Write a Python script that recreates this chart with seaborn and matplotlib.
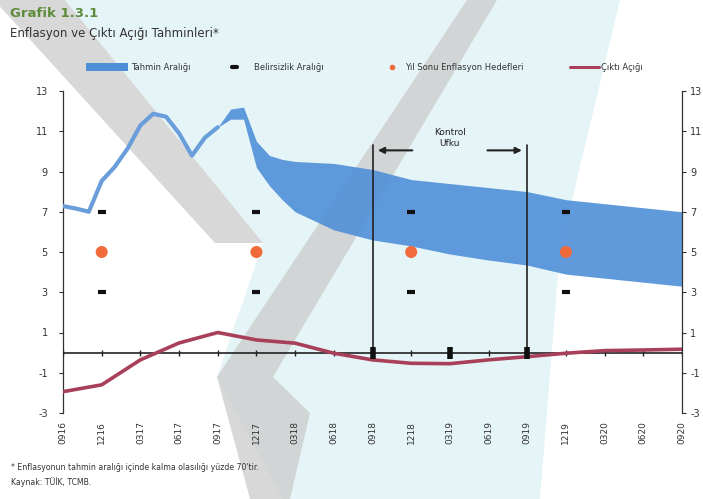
import numpy as np
import pandas as pd
import seaborn as sns
import matplotlib.pyplot as plt
from matplotlib.patches import Polygon, Rectangle
from matplotlib.lines import Line2D

# quarter labels (every 3 months, month index 0 = 09/2016)
quarter_labels = ["0916", "1216", "0317", "0617", "0917", "1217", "0318", "0618", "0918",
                  "1218", "0319", "0619", "0919", "1219", "0320", "0620", "0920"]
quarter_idx = list(range(0, 49, 3))

# realized inflation (monthly, 0916-0917)
hist_months = [0, 1, 2, 3, 4, 5, 6, 7, 8, 9, 10, 11, 12]
hist_infl = [7.28, 7.16, 7.00, 8.53, 9.22, 10.13, 11.29, 11.87, 11.72, 10.90, 9.79, 10.68, 11.20]

# forecast range
band_months = [12, 13, 14, 15, 16, 17, 18, 21, 24, 27, 30, 33, 36, 39, 42, 45, 48]
band_upper = [11.2, 12.1, 12.2, 10.5, 9.8, 9.6, 9.5, 9.4, 9.1, 8.6, 8.4, 8.2, 8.0, 7.6, 7.4, 7.2, 7.0]
band_lower = [11.2, 11.6, 11.6, 9.2, 8.3, 7.6, 7.0, 6.1, 5.6, 5.3, 4.9, 4.6, 4.35, 3.9, 3.7, 3.5, 3.3]

# output gap (quarterly)
gap = [-1.94, -1.6, -0.36, 0.48, 1.0, 0.63, 0.47, -0.03, -0.36, -0.53, -0.55, -0.36, -0.2,
       -0.03, 0.1, 0.13, 0.17]

# year-end targets and uncertainty range
target_months = [3, 15, 27, 39]
target_vals = [5, 5, 5, 5]
unc_upper = [7, 7, 7, 7]
unc_lower = [3, 3, 3, 3]

# control horizon
horizon = [24, 36]
zero_marks = [24, 30, 36]

legend_labels = ["Tahmin Aralığı", "Belirsizlik Aralığı", "Yıl Sonu Enflasyon Hedefleri", "Çıktı Açığı"]

BAND = "#4f8fd8"
LINE = "#6a9edb"
GAP = "#a8405a"
ORANGE = "#f06a3c"
TXT = "#333333"

sns.set_theme(style="white")
plt.rcParams["font.family"] = ["DejaVu Sans"]
plt.rcParams["axes.unicode_minus"] = False

fig = plt.figure(figsize=(7.03, 4.99), dpi=100, facecolor="white")
ax = fig.add_axes([63 / 703, 1 - 413 / 499, (682 - 63) / 703, (413 - 91) / 499])
ax.set_facecolor("none")


def px(pts):
    return [(x / 703, 1 - y / 499) for x, y in pts]


# background watermark shapes
cyan = Polygon(px([(65, 0), (620, 0), (560, 250), (540, 499), (283, 499), (217, 377), (263, 243)]),
               closed=True, transform=fig.transFigure, facecolor="#e5f4f7", edgecolor="none", zorder=-3)
grey1 = Polygon(px([(-6, 0), (65, 0), (263, 243), (215, 243)]),
                closed=True, transform=fig.transFigure, facecolor="#cbcbcb", edgecolor="none",
                alpha=0.75, zorder=-2)
grey2 = Polygon(px([(467, 0), (497, 0), (273, 377), (310, 413), (290, 499), (250, 499), (217, 377)]),
                closed=True, transform=fig.transFigure, facecolor="#cbcbcb", edgecolor="none",
                alpha=0.75, zorder=-2)
for p in (cyan, grey1, grey2):
    fig.add_artist(p)

# forecast band
ax.fill_between(band_months, band_lower, band_upper, color=BAND, alpha=0.9, lw=0, zorder=2)

hist_df = pd.DataFrame({"m": hist_months, "v": hist_infl})
sns.lineplot(data=hist_df, x="m", y="v", ax=ax, color=LINE, lw=3, zorder=3)

gap_df = pd.DataFrame({"m": quarter_idx, "v": gap})
sns.lineplot(data=gap_df, x="m", y="v", ax=ax, color=GAP, lw=2.6, zorder=4)

ax.axhline(0, color="#222222", lw=1.2, zorder=3)
ax.plot(quarter_idx, [0] * len(quarter_idx), ls="none", marker="|", ms=4, mew=1, color="#222222", zorder=3)

# uncertainty dashes and targets
for vals in (unc_upper, unc_lower):
    ax.plot(target_months, vals, ls="none", marker="_", ms=6, mew=3, color="#111111", zorder=5)
sns.scatterplot(x=target_months, y=target_vals, ax=ax, color=ORANGE, s=75, edgecolor="none",
                zorder=5, legend=False)

# control horizon
for h in horizon:
    ax.plot([h, h], [0, 10.3], color="#222222", lw=1.2, zorder=5)
ax.plot(zero_marks, [0] * len(zero_marks), ls="none", marker="|", ms=9, mew=4, color="#111111", zorder=6)
ax.annotate("", xy=(24.2, 10.05), xytext=(27.3, 10.05),
            arrowprops=dict(arrowstyle="-|>", color="#222222", lw=1.5, mutation_scale=9), zorder=6)
ax.annotate("", xy=(35.8, 10.05), xytext=(32.7, 10.05),
            arrowprops=dict(arrowstyle="-|>", color="#222222", lw=1.5, mutation_scale=9), zorder=6)
ax.text(30, 10.65, "Kontrol\nUfku", ha="center", va="center", fontsize=6.5, color="#222222",
        linespacing=1.3, zorder=6)

ax.set_xlim(0, 48)
ax.set_ylim(-3, 13)
ax.set_yticks(range(-3, 14, 2))
ax.set_xticks(quarter_idx)
ax.set_xticklabels(quarter_labels, rotation=90, fontsize=6.5, color=TXT)
ax.tick_params(axis="x", length=0, pad=6)
ax.tick_params(axis="y", length=3, width=0.8, color=TXT, labelsize=7, labelcolor=TXT,
               left=True, direction="out", pad=8)
ax.set_xlabel("")
ax.set_ylabel("")
for s in ("top", "bottom", "right"):
    ax.spines[s].set_visible(False)
ax.spines["left"].set_color(TXT)
ax.spines["left"].set_linewidth(0.9)

ax2 = ax.twinx()
ax2.set_ylim(-3, 13)
ax2.set_yticks(range(-3, 14, 2))
ax2.tick_params(axis="y", length=3, width=0.8, color=TXT, labelsize=7, labelcolor=TXT,
                right=True, direction="out", pad=3)
for s in ("top", "bottom", "left"):
    ax2.spines[s].set_visible(False)
ax2.spines["right"].set_color(TXT)
ax2.spines["right"].set_linewidth(0.9)
ax2.grid(False)

# legend row, drawn by hand to follow the reference spacing
ly = 1 - 67 / 499
fig.add_artist(Rectangle((86 / 703, 1 - 71 / 499), 42 / 703, 8 / 499, transform=fig.transFigure,
                         facecolor=BAND, edgecolor="none"))
fig.add_artist(Line2D([232 / 703, 237 / 703], [ly, ly], transform=fig.transFigure, color="#111111", lw=3))
fig.add_artist(Line2D([392 / 703], [ly], transform=fig.transFigure, ls="none", marker="o", ms=3,
                      color=ORANGE))
fig.add_artist(Line2D([570 / 703, 599 / 703], [ly, ly], transform=fig.transFigure, color=GAP, lw=2.2))
for xpix, lab in zip([131, 254, 405, 601], legend_labels):
    fig.text(xpix / 703, ly, lab, fontsize=6, color=TXT, va="center", ha="left")

fig.text(0.014, 0.985, "Grafik 1.3.1", color="#5e8c3c", fontsize=9.5, weight="bold", va="top")
fig.text(0.014, 0.945, "Enflasyon ve Çıktı Açığı Tahminleri*", color=TXT, fontsize=8.5, va="top")
fig.text(0.016, 0.064, "* Enflasyonun tahmin aralığı içinde kalma olasılığı yüzde 70'tir.",
         color=TXT, fontsize=5.6, va="center")
fig.text(0.016, 0.034, "Kaynak: TÜİK, TCMB.", color=TXT, fontsize=5.6, va="center")

fig.savefig("out.png", dpi=100, facecolor="white")
